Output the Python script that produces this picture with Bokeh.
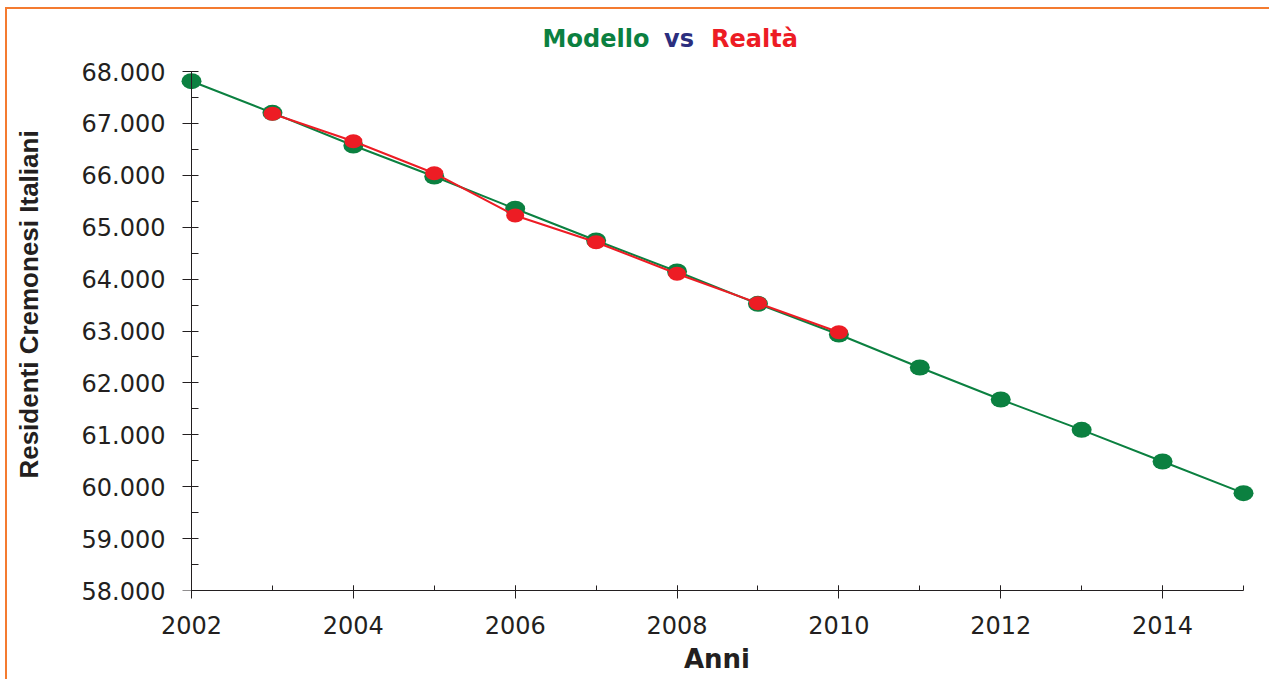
from bokeh.plotting import figure
from bokeh.models import FixedTicker, Range1d, Label, LinearAxis
from bokeh.embed import file_html
from bokeh.resources import INLINE

# ---------------- data ----------------
years_model = [2002, 2003, 2004, 2005, 2006, 2007, 2008, 2009, 2010, 2011, 2012, 2013, 2014, 2015]
residents_model = [67813, 67204, 66574, 65977, 65355, 64744, 64146, 63524, 62933, 62297, 61680, 61096, 60486, 59875]
years_real = [2003, 2004, 2005, 2006, 2007, 2008, 2009, 2010]
residents_real = [67185, 66657, 66040, 65225, 64711, 64102, 63536, 62977]

x_ticks = [2002, 2004, 2006, 2008, 2010, 2012, 2014]
x_minor_ticks = [2002, 2003, 2004, 2005, 2006, 2007, 2008, 2009, 2010, 2011, 2012, 2013, 2014, 2015]
y_ticks = [58000, 59000, 60000, 61000, 62000, 63000, 64000, 65000, 66000, 67000, 68000]
y_minor_ticks = [58500, 59500, 60500, 61500, 62500, 63500, 64500, 65500, 66500, 67500]
y_tick_labels = ["58.000", "59.000", "60.000", "61.000", "62.000", "63.000",
                 "64.000", "65.000", "66.000", "67.000", "68.000"]

title_words = ["Modello", "vs", "Realtà"]
x_title = "Anni"
y_title = "Residenti Cremonesi Italiani"

# ---------------- style ----------------
GREEN = "#0B8040"
RED = "#ED1C24"
NAVY = "#2B2E7E"
INK = "#231F20"
ORANGE = "#F47B30"

W, H = 1264, 672
p = figure(width=W, height=H, output_backend="svg", toolbar_location=None,
           x_range=Range1d(2001.8146, 2015.1730), y_range=Range1d(58000, 69021.2),
           min_border_left=169, min_border_right=14, min_border_top=9, min_border_bottom=91,
           styles={"margin-left": "7px", "margin-top": "9px",
                   "box-shadow": "-2px -2px 0 0 " + ORANGE})
p.outline_line_color = None
p.xgrid.grid_line_color = None
p.ygrid.grid_line_color = None
p.background_fill_color = "white"
p.border_fill_color = "white"

# x axis
xa = p.xaxis[0]
xa.ticker = FixedTicker(ticks=x_ticks, minor_ticks=x_minor_ticks)
xa.bounds = (2002, 2015)
xa.axis_line_color = INK
xa.major_tick_line_color = INK
xa.minor_tick_line_color = INK
xa.major_tick_in = 5
xa.major_tick_out = 8
xa.minor_tick_in = 5
xa.minor_tick_out = 0
xa.major_label_text_font = "DejaVu Sans"
xa.major_label_text_font_size = "24px"
xa.major_label_text_color = INK
xa.major_label_standoff = 17
xa.axis_label = x_title
xa.axis_label_text_font = "DejaVu Sans"
xa.axis_label_text_font_style = "bold"
xa.axis_label_text_font_size = "26px"
xa.axis_label_text_color = INK
xa.axis_label_standoff = 7

# y axis: labels (at frame edge)
ya = p.yaxis[0]
ya.ticker = FixedTicker(ticks=y_ticks, minor_ticks=y_minor_ticks)
ya.axis_line_color = None
ya.major_tick_line_color = None
ya.minor_tick_line_color = None
ya.major_tick_in = 0
ya.major_tick_out = 0
ya.minor_tick_in = 0
ya.minor_tick_out = 0
ya.major_label_overrides = {t: lab for t, lab in zip(y_ticks, y_tick_labels)}
ya.major_label_text_font = "DejaVu Sans"
ya.major_label_text_font_size = "24px"
ya.major_label_text_color = INK
ya.major_label_standoff = 11
ya.axis_label = y_title
ya.axis_label_text_font = "Liberation Sans"
ya.axis_label_text_font_style = "bold"
ya.axis_label_text_font_size = "26px"
ya.axis_label_text_color = INK
ya.axis_label_standoff = 35

# y axis: rule and ticks, at year 2002
yr = LinearAxis(fixed_location=2002, bounds=(58000, 68000),
                ticker=FixedTicker(ticks=y_ticks, minor_ticks=y_minor_ticks),
                axis_line_color=INK, major_tick_line_color=INK, minor_tick_line_color=INK,
                major_tick_in=9, major_tick_out=7, minor_tick_in=0, minor_tick_out=7,
                major_label_overrides={t: "" for t in y_ticks},
                major_label_text_font_size="0px", major_label_standoff=0)
p.add_layout(yr, "right")

# ---------------- series ----------------
p.line(years_model, residents_model, line_color=GREEN, line_width=2)
p.ellipse(x=years_model, y=residents_model, width=20, height=16,
          width_units="screen", height_units="screen",
          fill_color=GREEN, line_color=None)
p.line(years_real, residents_real, line_color=RED, line_width=2)
p.ellipse(x=years_real, y=residents_real, width=18, height=14,
          width_units="screen", height_units="screen",
          fill_color=RED, line_color=None)

# ---------------- title (inside the frame) ----------------
for word, cx, col in zip(title_words, [419.5, 502.5, 578], [GREEN, NAVY, RED]):
    p.add_layout(Label(x=cx, y=552, x_units="screen", y_units="screen", text=word,
                       text_align="center", text_baseline="alphabetic",
                       text_font="DejaVu Sans", text_font_style="bold",
                       text_font_size="24px", text_color=col))

open("out.html", "w").write(file_html(p, INLINE))
